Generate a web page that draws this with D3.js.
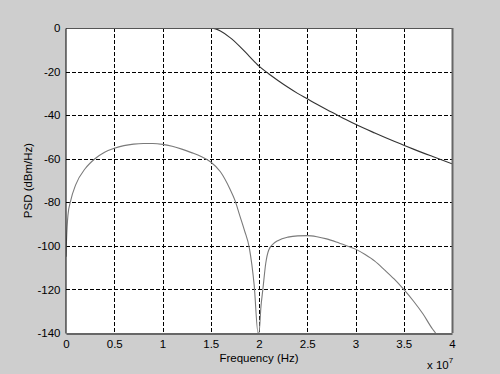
<!DOCTYPE html>
<meta charset="utf-8">
<style>
body { margin: 0; background: #cecece; }
svg { display: block; font-family: "Liberation Sans", Arial, sans-serif; }
.tick text { font-size: 11.5px; fill: #000; }
.grid line { stroke: #000; stroke-dasharray: 4,2; shape-rendering: crispEdges; }
</style>
<body>
<script src="https://d3js.org/d3.v7.min.js"></script>
<script>
// frequency in units of 1e7 Hz
var xTicks = [0, 0.5, 1, 1.5, 2, 2.5, 3, 3.5, 4];
var yTicks = [0, -20, -40, -60, -80, -100, -120, -140];

// upper curve (dark)
var freqA = [1.5, 1.55, 1.6, 1.7, 1.8, 1.9, 2.0, 2.1, 2.2, 2.3, 2.4, 2.5, 2.6, 2.7, 2.8, 2.9, 3.0, 3.2, 3.4, 3.5, 3.6, 3.8, 4.0];
var psdA  = [0, -0.4, -1.4, -4.4, -8.4, -13, -17.5, -21, -24.2, -27.2, -30, -32.5, -35, -37.4, -39.7, -42, -44.2, -48.2, -52, -53.8, -55.6, -59, -62.3];

// lower curve (gray)
var freqB = [0, 0.005, 0.02, 0.05, 0.1, 0.2, 0.3, 0.4, 0.5, 0.6, 0.7, 0.8, 0.9, 1.0, 1.1, 1.2, 1.3, 1.4, 1.5, 1.6, 1.7, 1.75, 1.8, 1.85, 1.9, 1.95, 1.99,
             2.0, 2.02, 2.04, 2.07, 2.1, 2.15, 2.2, 2.3, 2.4, 2.5, 2.6, 2.7, 2.8, 2.9, 3.0, 3.1, 3.2, 3.3, 3.4, 3.5, 3.6, 3.7, 3.8, 3.83];
var psdB  = [-105, -98, -86, -79, -72, -64.5, -60, -57, -55.2, -54, -53.3, -53, -53, -53.4, -54.3, -55.6, -57.2, -59, -61.5, -66, -74, -79, -86, -93, -101, -118, -140,
             -140, -128, -120, -108, -102, -99, -97.5, -96, -95.4, -95.3, -95.8, -96.8, -98.2, -99.8, -101.5, -104, -107, -111, -115.2, -120, -125.3, -131.3, -138.3, -140];

var W = 500, H = 374;
var pL = 66, pR = 452, pT = 28, pB = 333;

var svg = d3.select("body").append("svg")
  .attr("width", W)
  .attr("height", H);

var x = d3.scaleLinear().domain([0, 4]).range([pL, pR]);
var y = d3.scaleLinear().domain([-140, 0]).range([pB, pT]);

svg.append("rect")
  .attr("x", pL).attr("y", pT)
  .attr("width", pR - pL).attr("height", pB - pT)
  .attr("fill", "#fff");

svg.append("clipPath").attr("id", "clip")
  .append("rect")
  .attr("x", pL).attr("y", pT)
  .attr("width", pR - pL).attr("height", pB - pT);

// grid
var grid = svg.append("g").attr("class", "grid");
grid.selectAll(".gx")
  .data(xTicks.slice(1, -1))
  .enter().append("line")
  .attr("x1", function(d) { return Math.round(x(d)) + 0.5; })
  .attr("x2", function(d) { return Math.round(x(d)) + 0.5; })
  .attr("y1", pT).attr("y2", pB);
grid.selectAll(".gy")
  .data(yTicks.slice(1, -1))
  .enter().append("line")
  .attr("y1", function(d) { return Math.round(y(d)) + 0.5; })
  .attr("y2", function(d) { return Math.round(y(d)) + 0.5; })
  .attr("x1", pL).attr("x2", pR);

// curves
var line = d3.line()
  .curve(d3.curveMonotoneX)
  .x(function(d) { return x(d[0]); })
  .y(function(d) { return y(d[1]); });

var plot = svg.append("g").attr("clip-path", "url(#clip)");
plot.append("path")
  .datum(d3.zip(freqB, psdB))
  .attr("d", line)
  .attr("fill", "none")
  .attr("stroke", "#7a7a7a")
  .attr("stroke-width", 1.1);
plot.append("path")
  .datum(d3.zip(freqA, psdA))
  .attr("d", line)
  .attr("fill", "none")
  .attr("stroke", "#333")
  .attr("stroke-width", 1.1);

// box
svg.append("line")
  .attr("x1", pL).attr("x2", pR).attr("y1", pT + 0.5).attr("y2", pT + 0.5)
  .attr("stroke", "#555");
svg.append("line")
  .attr("x1", pR + 0.5).attr("x2", pR + 0.5).attr("y1", pT).attr("y2", pB)
  .attr("stroke", "#666").attr("stroke-width", 2);

// axes
var fmt = function(d) { return String(d); };
var xAxis = d3.axisBottom(x).tickValues(xTicks).tickSize(0).tickPadding(6).tickFormat(fmt);
var yAxis = d3.axisLeft(y).tickValues(yTicks).tickSize(0).tickPadding(5).tickFormat(fmt);

svg.append("g")
  .attr("transform", "translate(0," + (pB + 0.5) + ")")
  .call(xAxis)
  .call(function(g) { g.select(".domain").attr("stroke", "#000"); });

svg.append("g")
  .attr("transform", "translate(" + (pL - 0.5) + ",0)")
  .call(yAxis)
  .call(function(g) { g.select(".domain").attr("stroke", "#000"); });

svg.append("text")
  .attr("x", (pL + pR) / 2)
  .attr("y", 362)
  .attr("text-anchor", "middle")
  .attr("font-size", 11.5)
  .text("Frequency (Hz)");

svg.append("text")
  .attr("transform", "translate(32," + ((pT + pB) / 2) + ") rotate(-90)")
  .attr("text-anchor", "middle")
  .attr("font-size", 11.5)
  .text("PSD (dBm/Hz)");

var exp = svg.append("text")
  .attr("x", 427)
  .attr("y", 369)
  .attr("font-size", 11.5);
exp.append("tspan").text("x 10");
exp.append("tspan").attr("dy", -6).attr("font-size", 8).text("7");
</script>
</body>
